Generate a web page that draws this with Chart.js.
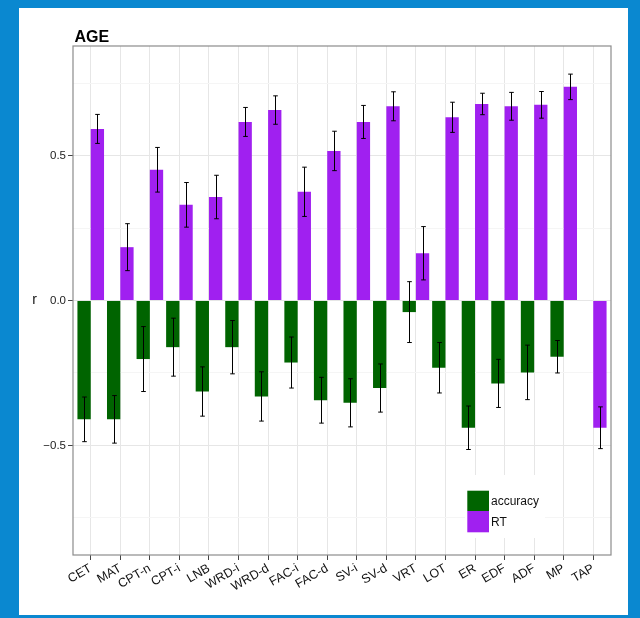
<!DOCTYPE html>
<html>
<head>
<meta charset="utf-8">
<title>AGE</title>
<script src="https://cdn.jsdelivr.net/npm/chart.js@4/dist/chart.umd.min.js"></script>
<style>
  html, body { margin: 0; padding: 0; }
  body { width: 640px; height: 618px; background: #0a88d0; position: relative; overflow: hidden; }
  #panel { position: absolute; left: 19px; top: 8px; width: 609px; height: 607px; background: #ffffff; }
  #chart { display: block; }
</style>
</head>
<body>
<div id="panel"><canvas id="chart" width="609" height="607"></canvas></div>
<script>
// Tasks on the x axis
const categories = ['CET', 'MAT', 'CPT-n', 'CPT-i', 'LNB', 'WRD-i', 'WRD-d', 'FAC-i', 'FAC-d',
  'SV-i', 'SV-d', 'VRT', 'LOT', 'ER', 'EDF', 'ADF', 'MP', 'TAP'];

// Correlation of age with accuracy (no accuracy measure for TAP)
const accuracy = [-0.410, -0.410, -0.202, -0.161, -0.314, -0.161, -0.331, -0.214, -0.344,
  -0.353, -0.302, -0.040, -0.232, -0.439, -0.286, -0.248, -0.194, null];
const accuracyErr = [0.077, 0.082, 0.112, 0.100, 0.085, 0.092, 0.085, 0.088, 0.079,
  0.083, 0.083, 0.105, 0.087, 0.075, 0.083, 0.094, 0.056, null];

// Correlation of age with reaction time
const rt = [0.592, 0.184, 0.451, 0.330, 0.357, 0.616, 0.657, 0.375, 0.516,
  0.616, 0.670, 0.163, 0.632, 0.678, 0.670, 0.675, 0.737, -0.439];
const rtErr = [0.050, 0.081, 0.077, 0.077, 0.075, 0.050, 0.049, 0.085, 0.068,
  0.057, 0.050, 0.092, 0.052, 0.037, 0.048, 0.046, 0.044, 0.072];

// y axis: labelled major ticks and unlabelled minor grid lines
const yMajorTicks = [-0.5, 0, 0.5];
const yMajorLabels = ['\u22120.5', '0.0', '0.5'];
const yMinorTicks = [-0.75, -0.25, 0.25, 0.75];

const GREEN = '#006400';
const PURPLE = '#a020f0';
const FONT = "'Liberation Sans', Arial, Helvetica, sans-serif";

Chart.defaults.font.family = FONT;

const toPoints = (arr) => arr.map((v, i) => ({ x: i, y: v }));

// Error bars, panel border, title, y label and legend drawn on the canvas
const decorations = {
  id: 'decorations',
  afterDatasetsDraw(chart) {
    const ctx = chart.ctx;
    const ys = chart.scales.y;
    const sets = [[accuracy, accuracyErr], [rt, rtErr]];
    ctx.save();
    ctx.strokeStyle = '#000000';
    ctx.lineWidth = 1;
    sets.forEach(([vals, errs], d) => {
      const meta = chart.getDatasetMeta(d);
      meta.data.forEach((bar, i) => {
        if (vals[i] === null || errs[i] === null) return;
        const x = Math.round(bar.x) + 0.5;
        const yTop = ys.getPixelForValue(vals[i] + errs[i]);
        const yBot = ys.getPixelForValue(vals[i] - errs[i]);
        ctx.beginPath();
        ctx.moveTo(x, yTop); ctx.lineTo(x, yBot);
        ctx.moveTo(x - 2.3, yTop); ctx.lineTo(x + 2.3, yTop);
        ctx.moveTo(x - 2.3, yBot); ctx.lineTo(x + 2.3, yBot);
        ctx.stroke();
      });
    });
    ctx.restore();
  },
  afterDraw(chart) {
    const ctx = chart.ctx;
    const a = chart.chartArea;
    const ys = chart.scales.y;
    ctx.save();

    // legend inside the panel, lower right
    const lx = 446, ly = 467;
    ctx.fillStyle = '#ffffff';
    ctx.fillRect(lx, ly, 80, 63);
    ctx.fillStyle = GREEN;
    ctx.fillRect(lx + 2.3, ly + 15.7, 21.7, 20.3);
    ctx.fillStyle = PURPLE;
    ctx.fillRect(lx + 2.3, ly + 36, 21.7, 21.3);
    ctx.fillStyle = '#111111';
    ctx.font = '12px ' + FONT;
    ctx.textAlign = 'left';
    ctx.textBaseline = 'middle';
    ctx.fillText('accuracy', lx + 26, ly + 26.7);
    ctx.fillText('RT', lx + 26, ly + 47.3);

    // panel border
    ctx.strokeStyle = '#8c8c8c';
    ctx.lineWidth = 1.2;
    ctx.strokeRect(a.left, a.top, a.right - a.left, a.bottom - a.top);

    // title
    ctx.fillStyle = '#000000';
    ctx.font = 'bold 16px ' + FONT;
    ctx.textAlign = 'left';
    ctx.textBaseline = 'alphabetic';
    ctx.fillText('AGE', a.left + 1.5, 33.5);

    // y axis title
    ctx.fillStyle = '#111111';
    ctx.font = '14px ' + FONT;
    ctx.textAlign = 'center';
    ctx.textBaseline = 'middle';
    ctx.fillText('r', 15.5, ys.getPixelForValue(0));
    ctx.restore();
  }
};

new Chart(document.getElementById('chart'), {
  type: 'bar',
  data: {
    datasets: [
      { label: 'accuracy', data: toPoints(accuracy), backgroundColor: GREEN, borderWidth: 0 },
      { label: 'RT', data: toPoints(rt), backgroundColor: PURPLE, borderWidth: 0 }
    ]
  },
  options: {
    responsive: false,
    animation: false,
    events: [],
    layout: { padding: { left: 0, top: 38, right: 17, bottom: 0 } },
    datasets: { bar: { categoryPercentage: 0.9, barPercentage: 1.0 } },
    plugins: { legend: { display: false }, tooltip: { enabled: false }, title: { display: false } },
    scales: {
      x: {
        type: 'linear',
        offset: false,
        min: -0.6,
        max: categories.length - 1 + 0.6,
        afterBuildTicks: (s) => { s.ticks = categories.map((_, i) => ({ value: i })); },
        afterFit: (s) => { s.height = 60; },
        border: { display: false },
        grid: { offset: false, color: '#e6e6e6', lineWidth: 1, tickColor: '#444444', tickLength: 5, drawTicks: true },
        ticks: {
          autoSkip: false,
          minRotation: 30,
          maxRotation: 30,
          padding: 1,
          color: '#111111',
          font: { size: 12.5 },
          callback: (v) => categories[v] ?? ''
        }
      },
      y: {
        type: 'linear',
        min: -0.878,
        max: 0.878,
        afterBuildTicks: (s) => {
          s.ticks = yMajorTicks.concat(yMinorTicks).sort((p, q) => p - q).map(v => ({ value: v }));
        },
        afterFit: (s) => { s.width = 54; },
        border: { display: false },
        grid: {
          lineWidth: 1,
          tickLength: 5,
          color: (c) => yMajorTicks.includes(c.tick.value) ? '#e6e6e6' : '#f5f5f5',
          tickColor: (c) => yMajorTicks.includes(c.tick.value) ? '#444444' : 'rgba(0,0,0,0)'
        },
        ticks: {
          padding: 2,
          color: '#222222',
          font: { size: 11.5 },
          callback: (v) => {
            const k = yMajorTicks.indexOf(v);
            return k >= 0 ? yMajorLabels[k] : '';
          }
        }
      }
    }
  },
  plugins: [decorations]
});
</script>
</body>
</html>
